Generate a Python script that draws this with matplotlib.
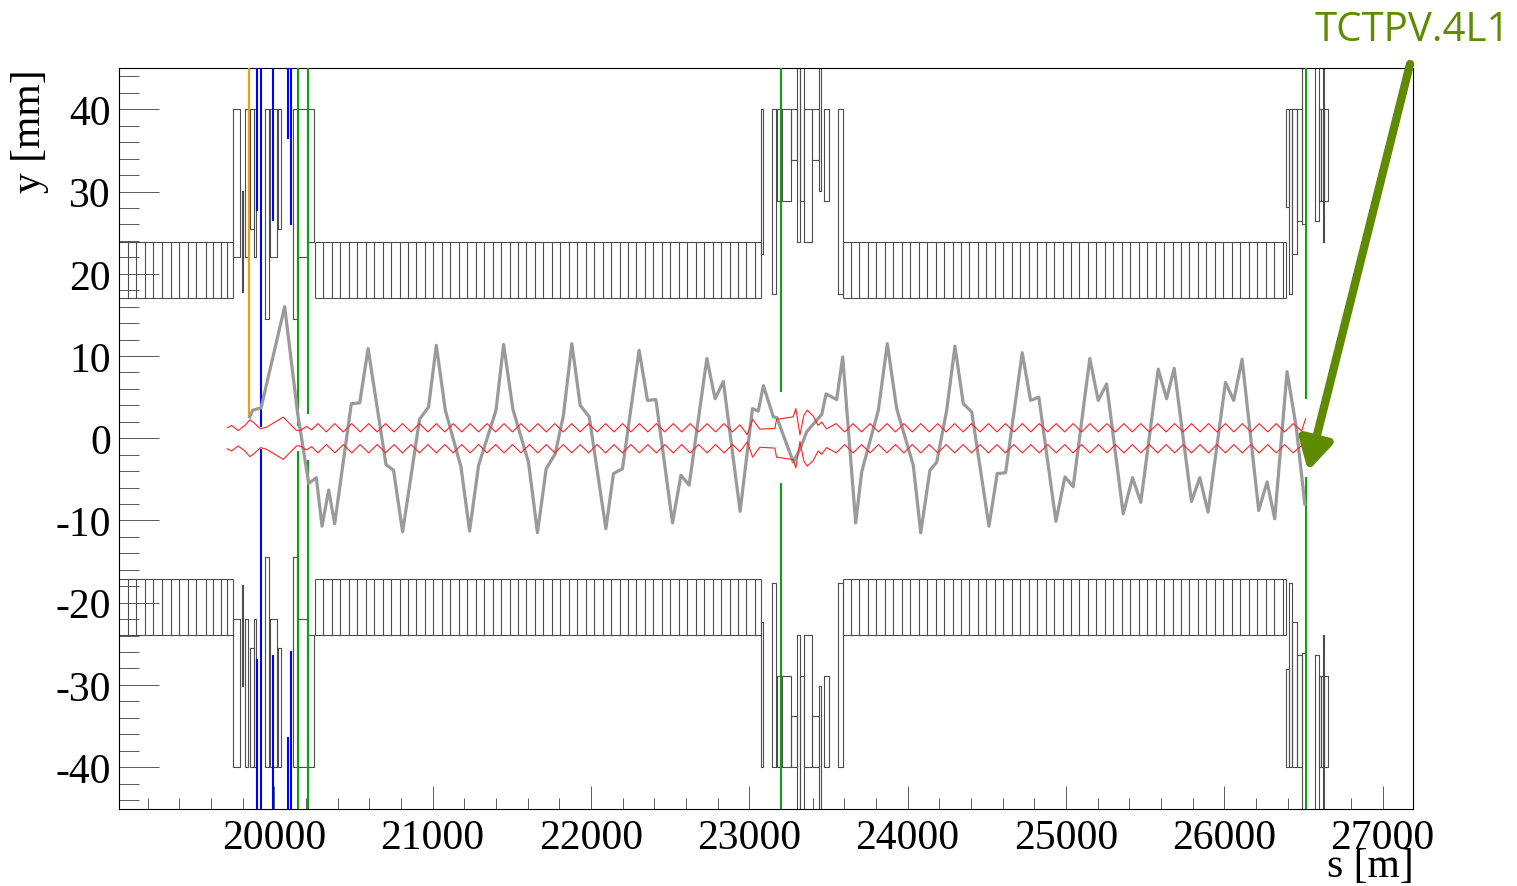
import numpy as np
import matplotlib
matplotlib.use('Agg')
import matplotlib.pyplot as plt

plt.rcParams['font.family'] = ['Liberation Serif', 'DejaVu Serif']
plt.rcParams['axes.unicode_minus'] = False

# --- arc aperture (regular boxes between +-17.1 and +-23.9 mm)
arc_start = [19020, 20256, 23589]
arc_end = [19736, 23071, 26390]
arc_inner = 17.1
arc_outer = 23.9
half_cell = 53.45
arc1_lines = [19076, 19129, 19182, 19234, 19287, 19346, 19399, 19452,
              19504, 19565, 19613, 19662, 19698]

# --- insertion region elements: s from, s to, inner aperture, outer edge [mm]
ir_s0 = [19736, 19797, 19814, 19845, 19870, 19940, 19972, 20024, 20119, 20151, 20214,
         23071, 23141, 23176, 23204, 23261, 23299, 23320, 23345, 23393, 23442, 23471, 23562,
         26390, 26409, 26426, 26457, 26489, 26573, 26598, 26611, 26625, 26630]
ir_s1 = [19786, 19800, 19835, 19870, 19887, 19967, 20014, 20045, 20144, 20203, 20250,
         23088, 23168, 23193, 23261, 23299, 23320, 23345, 23393, 23442, 23456, 23505, 23589,
         26409, 26426, 26457, 26489, 26516, 26598, 26611, 26630, 26628, 26657]
ir_ap = [22.0, 17.8, 22.0, 25.5, 22.0, 14.5, 22.0, 25.5, 14.5, 22.0, 23.9,
         22.4, 17.6, 28.9, 28.9, 33.8, 23.9, 28.9, 23.9, 33.8, 30.1, 28.9, 17.6,
         28.1, 17.6, 22.4, 26.4, 26.1, 26.4, 28.9, 28.9, 23.9, 28.9]
ir_out = [40, 30.1, 40, 40, 40, 40, 40, 40, 40, 40, 40,
          40, 40, 40, 40, 40, 50, 50, 40, 40, 50, 40, 40,
          40, 40, 40, 40, 50, 50, 40, 40, 50, 40]

# --- collimators: position, colour, upper jaw, lower jaw [mm]
coll_s = [19839, 19889, 19915, 19991, 20087, 20104, 20148, 20212, 23198, 26514]
coll_color = ['#ff9900', '#0000ff', '#0000ff', '#0000ff', '#0000ff', '#0000ff',
              '#10a010', '#10a010', '#10a010', '#10a010']
coll_top = [2.4, 27.7, 1.4, 26.4, 36.4, 25.9, 1.5, 2.9, 5.6, 4.8]
coll_bot = [None, -26.8, -1.3, -26.4, -36.3, -25.9, -1.5, -2.7, -5.5, -4.7]

# --- orbit (grey)
orbit_s = [19844, 19863, 19916, 20065, 20147, 20217, 20265, 20301, 20343, 20381,
           20486, 20539, 20592, 20705, 20753, 20810, 20917, 20974, 21023, 21080,
           21179, 21233, 21290, 21400, 21448, 21507, 21605, 21662, 21717, 21774,
           21826, 21879, 21932, 21989, 22094, 22142, 22199, 22304, 22357, 22410,
           22515, 22568, 22620, 22732, 22784, 22836, 22942, 23020, 23057, 23089,
           23152, 23174, 23278, 23321, 23363, 23458, 23485, 23552, 23590, 23672,
           23710, 23815, 23872, 23931, 24036, 24083, 24141, 24184, 24247, 24299,
           24352, 24405, 24514, 24566, 24619, 24724, 24777, 24829, 24937, 24994,
           25046, 25151, 25204, 25257, 25362, 25421, 25473, 25583, 25636, 25684,
           25793, 25846, 25898, 26008, 26060, 26113, 26218, 26271, 26319, 26397,
           26456, 26509]
orbit_y = [2.6, 3.4, 3.7, 16.0, 3.0, -5.5, -4.8, -10.7, -6.3, -10.4,
           4.2, 4.3, 10.9, -3.2, -3.9, -11.4, 2.3, 3.8, 11.3, 3.4,
           -3.5, -11.3, -3.3, 3.4, 11.4, 3.5, -2.9, -11.5, -3.7, -1.9,
           2.8, 11.5, 4.0, 2.6, -11.0, -4.3, -3.7, 10.7, 4.6, 4.7,
           -10.3, -4.5, -5.7, 9.7, 4.8, 6.9, -8.9, 3.6, 3.3, 6.4,
           2.6, 2.5, -2.9, -1.3, 0.8, 2.9, 5.4, 4.7, 9.9, -10.3,
           -4.1, 3.4, 11.5, 3.6, -3.3, -11.5, -3.9, -2.9, 3.4, 11.2,
           4.2, 3.2, -10.7, -4.3, -4.2, 10.4, 4.6, 5.0, -10.1, -4.7,
           -5.9, 9.7, 4.6, 6.6, -9.2, -4.8, -7.8, 8.4, 4.8, 8.5,
           -7.7, -4.8, -9.0, 6.8, 4.6, 9.6, -8.8, -5.3, -9.8, 8.1,
           1.2, -8.0]

# --- beam envelope half width (red), insertions read point by point
env_ir1_s = [19702, 19730, 19771, 19814, 19845, 19866, 19913, 19951, 20003,
             20056, 20087, 20140, 20161, 20203, 20235]
env_ir1_w = [1.27, 1.55, 0.94, 1.55, 2.24, 1.96, 1.14, 1.35, 1.96,
             2.57, 1.96, 0.94, 0.94, 1.42, 1.02]
env_ir5_s = [22941, 22987, 23021, 23067, 23162, 23172, 23277, 23294, 23320,
             23345, 23366, 23404, 23435, 23457, 23488]
env_ir5_w = [1.63, 0.45, 2.30, 1.10, 1.20, 2.30, 2.60, 3.60, 0.40,
             2.80, 3.40, 2.70, 1.55, 1.96, 1.14]
env_end_s = [26489, 26514]
env_end_w = [0.9, 2.36]
# arcs: width at focusing / defocusing quadrupoles
env_arc_first = [20275, 23549]
env_arc_last = [22895, 26436]
env_arc_w = [1.78, 0.77]

fig = plt.figure(figsize=(15.17, 8.87), dpi=100)
ax = fig.add_axes([0.0786, 0.0868, 0.8531, 0.8351])

box_col = '0.3'
box_lw = 0.8

# arcs
for i, (a, b) in enumerate(zip(arc_start, arc_end)):
    if i == 0:
        lines = arc1_lines + [b]
    else:
        lines = list(np.arange(a, b, half_cell)) + [b]
    for sg in (1, -1):
        ax.hlines([sg * arc_inner, sg * arc_outer], a, b, color=box_col, lw=box_lw)
        ax.vlines(lines, sg * arc_inner, sg * arc_outer, color=box_col, lw=box_lw)

# insertion elements
for s0, s1, ap, out in zip(ir_s0, ir_s1, ir_ap, ir_out):
    for sg in (1, -1):
        ax.plot([s0, s0, s1, s1, s0], [sg * ap, sg * out, sg * out, sg * ap, sg * ap],
                color=box_col, lw=box_lw)

# collimators
for s, c, t, b in zip(coll_s, coll_color, coll_top, coll_bot):
    ax.vlines(s, t, 50, color=c, lw=1.5, zorder=3)
    if b is not None:
        ax.vlines(s, -50, b, color=c, lw=1.5, zorder=3)

# orbit
ax.plot(orbit_s, orbit_y, color='#9a9a9a', lw=2.3, zorder=4)

# envelope
env_s = list(env_ir1_s)
env_w = list(env_ir1_w)
for k, (a, b) in enumerate(zip(env_arc_first, env_arc_last)):
    pos = np.arange(a, b + 1, half_cell)
    env_s += list(pos)
    env_w += [env_arc_w[j % 2] for j in range(len(pos))]
    if k == 0:
        env_s += env_ir5_s
        env_w += env_ir5_w
env_s += env_end_s
env_w += env_end_w
env_s = np.array(env_s)
env_w = np.array(env_w)
ax.plot(env_s, env_w, color='#ff2020', lw=0.8, zorder=5)
ax.plot(env_s, -env_w, color='#ff2020', lw=0.8, zorder=5)

ax.set_xlim(19020, 27195)
ax.set_ylim(-45.1, 45.0)
ax.set_xticks(range(20000, 27001, 1000))
ax.set_xticks(range(19200, 27200, 200), minor=True)
ax.set_yticks(range(-40, 41, 10))
ax.set_yticks(range(-44, 45, 2), minor=True)
ax.tick_params(axis='x', which='major', direction='in', length=16.5, width=0.7,
               labelsize=30, pad=7, color='0.35')
ax.tick_params(axis='x', which='minor', direction='in', length=8, width=0.7, color='0.35')
ax.tick_params(axis='y', which='major', direction='in', length=29, width=0.7,
               labelsize=30, pad=6, color='0.35')
ax.tick_params(axis='y', which='minor', direction='in', length=14.5, width=0.7, color='0.35')
for sp in ax.spines.values():
    sp.set_linewidth(0.8)

ax.set_ylabel('y [mm]', fontsize=30, loc='top')
ax.yaxis.set_label_coords(-0.054, 1.0)
ax.set_xlabel('s [m]', fontsize=30, loc='right')
ax.xaxis.set_label_coords(1.0, -0.05)

# annotation
fig.text(0.9308, 0.9656, 'TCTPV.4L1', ha='center', va='center', color='#5e8b00',
         fontsize=29, family=['Open Sans', 'DejaVu Sans'])
ax.annotate('', xy=(26529, -4.0), xycoords='data', xytext=(0.9295, 0.9267),
            textcoords='figure fraction', annotation_clip=False,
            arrowprops=dict(arrowstyle='-|>,head_length=0.9,head_width=0.5', lw=6,
                            color='#5e8b00', mutation_scale=20, shrinkA=0, shrinkB=0),
            zorder=6)

fig.savefig('out.png', dpi=100)
